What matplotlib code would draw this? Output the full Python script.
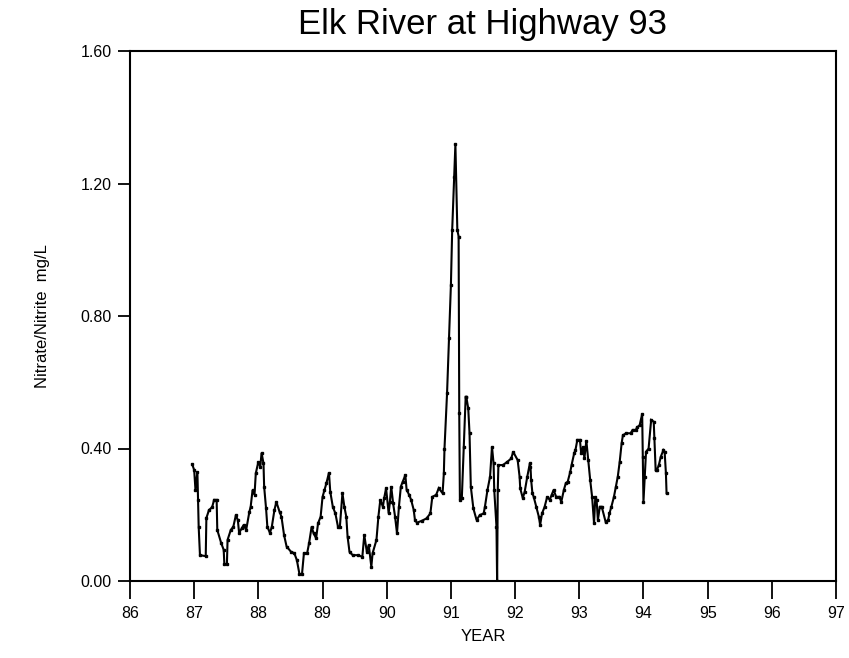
import matplotlib
matplotlib.use("Agg")
import matplotlib.pyplot as plt

years = [86.97, 87.00, 87.02, 87.05, 87.06, 87.07, 87.09, 87.18, 87.19, 87.23, 87.28, 87.31, 87.35,
         87.36, 87.42, 87.46, 87.47, 87.51, 87.52, 87.57, 87.61, 87.65, 87.68, 87.70, 87.74, 87.77,
         87.81, 87.86, 87.88, 87.91, 87.94, 87.96, 88.00, 88.03, 88.05, 88.08, 88.09, 88.12, 88.14,
         88.18, 88.21, 88.25, 88.28, 88.33, 88.36, 88.40, 88.44, 88.51, 88.56, 88.60, 88.64, 88.68,
         88.71, 88.76, 88.79, 88.83, 88.86, 88.90, 88.93, 88.97, 89.00, 89.03, 89.06, 89.10, 89.12,
         89.16, 89.20, 89.24, 89.27, 89.31, 89.34, 89.37, 89.39, 89.42, 89.47, 89.55, 89.62, 89.65,
         89.69, 89.72, 89.76, 89.78, 89.84, 89.87, 89.90, 89.94, 89.96, 89.99, 90.03, 90.05, 90.07,
         90.10, 90.13, 90.16, 90.19, 90.22, 90.25, 90.29, 90.31, 90.35, 90.38, 90.42, 90.44, 90.47,
         90.55, 90.62, 90.68, 90.71, 90.77, 90.81, 90.87, 90.89, 90.90, 90.94, 90.97, 91.00, 91.02,
         91.05, 91.07, 91.10, 91.12, 91.13, 91.14, 91.17, 91.20, 91.23, 91.24, 91.27, 91.29, 91.31,
         91.35, 91.40, 91.45, 91.51, 91.53, 91.57, 91.61, 91.64, 91.665, 91.675, 91.71, 91.72, 91.73,
         91.74, 91.81, 91.88, 91.94, 91.97, 92.04, 92.07, 92.08, 92.12, 92.15, 92.19, 92.23, 92.24,
         92.25, 92.27, 92.29, 92.33, 92.37, 92.39, 92.42, 92.46, 92.50, 92.54, 92.57, 92.60, 92.64,
         92.69, 92.72, 92.76, 92.79, 92.82, 92.86, 92.88, 92.92, 92.94, 92.97, 93.01, 93.03, 93.06,
         93.08, 93.11, 93.14, 93.17, 93.20, 93.23, 93.25, 93.27, 93.29, 93.32, 93.35, 93.41, 93.45,
         93.47, 93.50, 93.54, 93.57, 93.60, 93.63, 93.66, 93.68, 93.73, 93.80, 93.83, 93.88, 93.90,
         93.94, 93.98, 93.99, 94.00, 94.02, 94.04, 94.08, 94.12, 94.16, 94.17, 94.19, 94.21, 94.24,
         94.27, 94.31, 94.33, 94.35, 94.36]
nitrate = [0.352, 0.335, 0.275, 0.330, 0.245, 0.164, 0.078, 0.075, 0.190, 0.214, 0.223, 0.245, 0.245,
           0.154, 0.115, 0.094, 0.051, 0.051, 0.124, 0.154, 0.164, 0.199, 0.184, 0.145, 0.159, 0.169,
           0.154, 0.209, 0.224, 0.275, 0.260, 0.325, 0.360, 0.345, 0.387, 0.355, 0.285, 0.219, 0.164,
           0.145, 0.164, 0.214, 0.239, 0.209, 0.194, 0.139, 0.104, 0.088, 0.084, 0.063, 0.021, 0.021,
           0.084, 0.084, 0.114, 0.164, 0.144, 0.129, 0.174, 0.194, 0.254, 0.275, 0.295, 0.327, 0.270,
           0.224, 0.204, 0.164, 0.164, 0.265, 0.224, 0.194, 0.134, 0.088, 0.078, 0.078, 0.073, 0.139,
           0.088, 0.109, 0.043, 0.084, 0.124, 0.194, 0.245, 0.224, 0.250, 0.280, 0.204, 0.240, 0.285,
           0.234, 0.194, 0.144, 0.224, 0.285, 0.300, 0.320, 0.275, 0.260, 0.245, 0.215, 0.184, 0.176,
           0.182, 0.189, 0.204, 0.254, 0.260, 0.280, 0.265, 0.325, 0.400, 0.567, 0.733, 0.894, 1.060,
           1.220, 1.319, 1.060, 1.040, 0.506, 0.245, 0.250, 0.405, 0.556, 0.556, 0.521, 0.446, 0.285,
           0.219, 0.184, 0.199, 0.204, 0.224, 0.275, 0.315, 0.405, 0.355, 0.275, 0.164, 0.000, 0.275,
           0.350, 0.350, 0.360, 0.370, 0.390, 0.365, 0.315, 0.280, 0.250, 0.270, 0.315, 0.355, 0.345,
           0.305, 0.265, 0.254, 0.224, 0.194, 0.169, 0.204, 0.224, 0.254, 0.245, 0.260, 0.275, 0.254,
           0.254, 0.239, 0.275, 0.295, 0.300, 0.330, 0.350, 0.385, 0.395, 0.426, 0.426, 0.385, 0.405,
           0.370, 0.424, 0.365, 0.305, 0.254, 0.174, 0.254, 0.245, 0.184, 0.224, 0.224, 0.179, 0.184,
           0.204, 0.224, 0.254, 0.285, 0.315, 0.360, 0.416, 0.440, 0.446, 0.446, 0.456, 0.456, 0.464,
           0.470, 0.504, 0.375, 0.239, 0.315, 0.390, 0.400, 0.486, 0.481, 0.431, 0.335, 0.335, 0.350,
           0.375, 0.395, 0.390, 0.325, 0.265]

x_ticks = [86, 87, 88, 89, 90, 91, 92, 93, 94, 95, 96, 97]
x_tick_labels = [str(t) for t in x_ticks]
y_ticks = [0.0, 0.4, 0.8, 1.2, 1.6]
y_tick_labels = ["0.00", "0.40", "0.80", "1.20", "1.60"]

plt.rcParams['font.family'] = ['Liberation Sans', 'DejaVu Sans']

fig = plt.figure(figsize=(8.49, 6.58), dpi=100)
ax = fig.add_axes([130/849, 1 - 581/658, (836 - 130)/849, (581 - 51)/658])

ax.plot(years, nitrate, color='black', linewidth=1.5, marker='s', markersize=1.8,
        solid_joinstyle='miter')

ax.set_xlim(86, 97)
ax.set_ylim(0, 1.6)
ax.set_xticks(x_ticks)
ax.set_xticklabels(x_tick_labels)
ax.set_yticks(y_ticks)
ax.set_yticklabels(y_tick_labels)
ax.tick_params(axis='x', direction='out', length=13, width=1.3, labelsize=11.5, pad=5)
ax.tick_params(axis='y', direction='out', length=9, width=1.3, labelsize=11.5, pad=4)
for s in ax.spines.values():
    s.set_linewidth(1.5)

ax.set_title("Elk River at Highway 93", fontsize=25, pad=12)
ax.set_xlabel("YEAR", fontsize=12, labelpad=6)
ax.set_ylabel("Nitrate/Nitrite  mg/L", fontsize=12, labelpad=22)

fig.savefig("out.png", dpi=100)
